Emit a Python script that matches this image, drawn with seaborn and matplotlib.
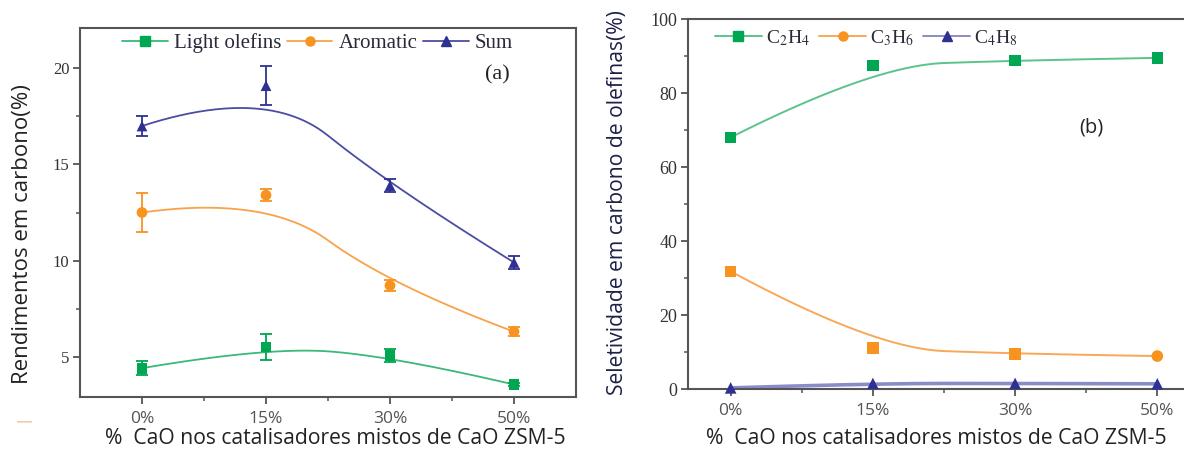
import numpy as np
import pandas as pd
import matplotlib
matplotlib.use("Agg")
import matplotlib.pyplot as plt
from matplotlib.lines import Line2D
import seaborn as sns

# ---- data -------------------------------------------------------------
cao_labels = ["0%", "15%", "30%", "50%"]

# (a) carbon yields (%)
light_olefins = [4.4, 5.5, 5.05, 3.55]
light_olefins_err = [0.35, 0.7, 0.35, 0.1]
aromatic = [12.5, 13.4, 8.7, 6.3]
aromatic_err = [1.0, 0.3, 0.3, 0.25]
total_sum = [17.0, 19.1, 13.9, 9.9]
total_sum_err = [0.5, 1.0, 0.35, 0.35]

# (b) olefin selectivity (%)
c2h4 = [68.0, 87.4, 88.8, 89.5]
c3h6 = [31.8, 11.0, 9.5, 8.9]
c4h8 = [0.3, 1.5, 1.5, 1.4]

# ---- styling ----------------------------------------------------------
sns.set_style("ticks")
plt.rcParams["font.family"] = ["Open Sans", "DejaVu Sans"]
plt.rcParams["mathtext.fontset"] = "stix"

GREEN, ORANGE, NAVY = "#00a651", "#f7931e", "#2e3192"
GREEN_L, ORANGE_L, NAVY_L = "#3cb878", "#f9a24a", "#4b4da3"
SPINE = "#555555"
SERIF = ["Liberation Serif", "DejaVu Serif"]


def bspline_curve(ys, degree=2, num=300):
    """Clamped B-spline using the data points as control points."""
    cx = np.arange(len(ys), dtype=float)
    cy = np.asarray(ys, dtype=float)
    n = len(cy)
    inner = np.linspace(0, 1, n - degree + 1)
    knots = np.concatenate([np.zeros(degree), inner, np.ones(degree)])
    u = np.linspace(0, 1, num)
    N = np.zeros((num, len(knots) - 1))
    for i in range(len(knots) - 1):
        N[:, i] = (knots[i] <= u) & (u < knots[i + 1])
    last = max(i for i in range(len(knots) - 1) if knots[i] < knots[i + 1])
    N[u >= knots[-1], last] = 1.0
    for d in range(1, degree + 1):
        Nn = np.zeros((num, len(knots) - 1 - d))
        for i in range(len(knots) - 1 - d):
            a = knots[i + d] - knots[i]
            b = knots[i + d + 1] - knots[i + 1]
            t1 = (u - knots[i]) / a * N[:, i] if a > 0 else 0.0
            t2 = (knots[i + d + 1] - u) / b * N[:, i + 1] if b > 0 else 0.0
            Nn[:, i] = t1 + t2
        N = Nn
    return N @ cx, N @ cy


def curves_frame(series):
    rows = []
    for name, vals in series.items():
        x, y = bspline_curve(vals)
        rows.append(pd.DataFrame({"x": x, "y": y, "series": name}))
    return pd.concat(rows, ignore_index=True)


def style_axes(ax, ysize):
    for s in ax.spines.values():
        s.set_color(SPINE)
        s.set_linewidth(1.5)
    ax.tick_params(axis="both", which="major", direction="out", length=5,
                   width=1.3, color=SPINE)
    ax.tick_params(axis="both", which="minor", direction="out", length=3,
                   width=1.1, color=SPINE)
    ax.tick_params(axis="x", which="major", pad=5, labelsize=12.5,
                   labelcolor="#555555")
    ax.tick_params(axis="y", which="major", pad=2.5, labelsize=ysize,
                   labelcolor="#333333")
    for lab in ax.get_yticklabels():
        lab.set_family(SERIF)
    ax.set_xlabel("")
    ax.set_ylabel("")


W, H = 1184, 450
fig = plt.figure(figsize=(W / 100, H / 100), dpi=100)

# ---- panel (a) ---------------------------------------------------------
ax1 = fig.add_axes([80 / W, (H - 397) / H, 496 / W, 369 / H])
names_a = ["Light olefins", "Aromatic", "Sum"]
vals_a = [light_olefins, aromatic, total_sum]
errs_a = [light_olefins_err, aromatic_err, total_sum_err]
marks_a = ["s", "o", "^"]
cols_a = [GREEN, ORANGE, NAVY]
lcols_a = [GREEN_L, ORANGE_L, NAVY_L]

cur_a = curves_frame(dict(zip(names_a, vals_a)))
sns.lineplot(data=cur_a, x="x", y="y", hue="series", palette=dict(zip(names_a, lcols_a)),
             estimator=None, sort=False, linewidth=1.3, legend=False, ax=ax1)

pos = np.arange(len(cao_labels))
pts_a = pd.concat([pd.DataFrame({"x": pos, "y": v, "series": n})
                   for n, v in zip(names_a, vals_a)], ignore_index=True)
for n, v, e, c in zip(names_a, vals_a, errs_a, cols_a):
    ax1.errorbar(pos, v, yerr=e, fmt="none", ecolor=c, elinewidth=1.3,
                 capsize=4.5, capthick=1.3, zorder=3)
sns.scatterplot(data=pts_a, x="x", y="y", hue="series", style="series",
                palette=dict(zip(names_a, cols_a)),
                markers=dict(zip(names_a, marks_a)), s=60, linewidth=0,
                legend=False, zorder=4, ax=ax1)

ax1.set_xlim(-0.5, 3.5)
ax1.set_ylim(2.9, 22.1)
ax1.set_xticks(pos)
ax1.set_xticklabels(cao_labels)
ax1.set_xticks([0.5, 1.5, 2.5], minor=True)
ax1.set_yticks([5, 10, 15, 20])
ax1.set_yticks([7.5, 12.5, 17.5], minor=True)
style_axes(ax1, 12)

h_a = [Line2D([], [], color=lc, lw=1.3, marker=m, markersize=6.5,
              markerfacecolor=c, markeredgecolor=c)
       for lc, m, c in zip(lcols_a, marks_a, cols_a)]
leg1 = ax1.legend(h_a, names_a, loc="center left",
                  bbox_to_anchor=((122 - 80) / 496, (397 - 43) / 369),
                  ncol=3, frameon=False, borderpad=0, borderaxespad=0,
                  handlelength=2.2, handletextpad=0.3, columnspacing=0.25,
                  prop={"family": SERIF, "size": 15})
for t in leg1.get_texts():
    t.set_color("#2a2a3a")
fig.text(497 / W, (H - 75) / H, "(a)", fontsize=16, family=SERIF,
         ha="center", va="center", color="#222222")

# ---- panel (b) ---------------------------------------------------------
ax2 = fig.add_axes([688 / W, (H - 389) / H, 512 / W, 370 / H])
names_b = [r"C$_2$H$_4$", r"C$_3$H$_6$", r"C$_4$H$_8$"]
vals_b = [c2h4, c3h6, c4h8]
cols_b = [GREEN, ORANGE, NAVY]
lcols_b = ["#5cc48a", "#f9a85a", "#8a8cc8"]
lws_b = [1.4, 1.4, 2.6]

cur_b = curves_frame(dict(zip(names_b, vals_b)))
for n, lc, lw in zip(names_b, lcols_b, lws_b):
    sns.lineplot(data=cur_b[cur_b["series"] == n], x="x", y="y", color=lc,
                 estimator=None, sort=False, linewidth=lw, legend=False, ax=ax2)

shape_b = [["s"] * 4, ["s", "s", "s", "o"], ["^"] * 4]
pts_b = pd.concat([pd.DataFrame({"x": pos, "y": v, "series": n, "shape": sh})
                   for n, v, sh in zip(names_b, vals_b, shape_b)], ignore_index=True)
sns.scatterplot(data=pts_b, x="x", y="y", hue="series", style="shape",
                palette=dict(zip(names_b, cols_b)),
                markers={"s": "s", "o": "o", "^": "^"}, s=70, linewidth=0,
                legend=False, zorder=4, clip_on=False, ax=ax2)

ax2.set_xlim(-0.3, 3.3)
ax2.set_ylim(0, 100)
ax2.set_xticks(pos)
ax2.set_xticklabels(cao_labels)
ax2.set_xticks([0.5, 1.5, 2.5], minor=True)
ax2.set_yticks(np.arange(0, 101, 20))
ax2.set_yticks(np.arange(10, 100, 20), minor=True)
style_axes(ax2, 13)

h_b = [Line2D([], [], color=lc, lw=1.4, marker=m, markersize=6.5,
              markerfacecolor=c, markeredgecolor=c)
       for lc, m, c in zip(lcols_b, ["s", "o", "^"], cols_b)]
leg2 = ax2.legend(h_b, names_b, loc="center left",
                  bbox_to_anchor=((715 - 688) / 512, (389 - 38) / 370),
                  ncol=3, frameon=False, borderpad=0, borderaxespad=0,
                  handlelength=2.4, handletextpad=0.2, columnspacing=0.5,
                  prop={"family": SERIF, "size": 14})
for t in leg2.get_texts():
    t.set_color("#2a2a3a")
fig.text(1091 / W, (H - 128) / H, "(b)", fontsize=14.5,
         ha="center", va="center", color="#222222")

# ---- axis titles -------------------------------------------------------
xlab = "%  CaO nos catalisadores mistos de CaO ZSM-5"
fig.text(105 / W, (H - 438) / H, xlab, fontsize=15.2, ha="left", va="center",
         color="#222222")
fig.text(706 / W, (H - 438) / H, xlab, fontsize=15.2, ha="left", va="center",
         color="#222222")
fig.text(23 / W, (H - 234) / H, "Rendimentos em carbono(%)", rotation=90,
         fontsize=16, ha="center", va="center", color="#222222")
fig.text(22 / W, (H - 418) / H, "|", rotation=90, fontsize=11,
         ha="center", va="center", color="#e8a878")
fig.text(617 / W, (H - 203) / H, "Seletividade em carbono de olefinas(%)",
         rotation=90, fontsize=15.2, ha="center", va="center", color="#1c2148")

fig.savefig("out.png", dpi=100)
